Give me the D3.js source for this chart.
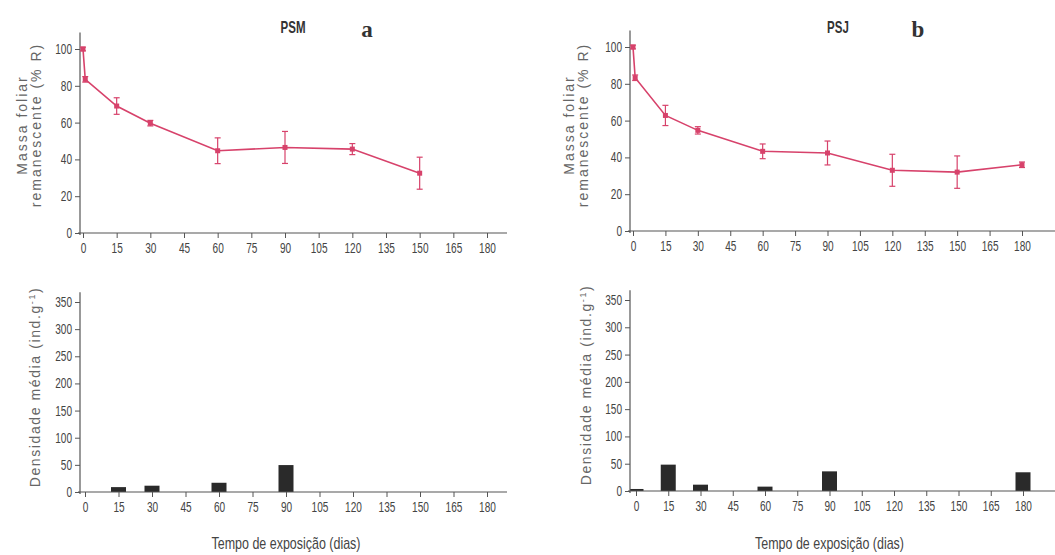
<!DOCTYPE html>
<html lang="pt">
<head>
<meta charset="utf-8" />
<title>PSM / PSJ</title>
<script src="https://d3js.org/d3.v7.min.js"></script>
<style>
  body { margin: 0; background: #fff; }
  svg { display: block; }
  .tick text { font-family: "Liberation Sans", Arial, sans-serif; font-size: 14px; fill: #444; }
</style>
</head>
<body>
<script>
// dias de exposicao
const daysA = [0, 1, 15, 30, 60, 90, 120, 150]
const massA = [100, 83.5, 69, 59.7, 44.7, 46.5, 45.6, 32.5]
const errA  = [1, 1.5, 4.5, 1.5, 7, 8.7, 3, 8.7]

const daysB = [0, 1, 15, 30, 60, 90, 120, 150, 180]
const massB = [100, 83.3, 62.8, 54.7, 43.3, 42.4, 33, 32, 36]
const errB  = [1, 1.5, 5.5, 2, 4, 6.5, 8.7, 8.8, 1.5]

const barDaysA = [15, 30, 60, 90]
const densA    = [9, 11.6, 17, 49.6]
const barDaysB = [0, 15, 30, 60, 90, 180]
const densB    = [3.7, 48.3, 11.6, 8, 36, 34.3]

const xTicks = d3.range(0, 181, 15)
const massTicks = [0, 20, 40, 60, 80, 100]
const densTicks = [0, 50, 100, 150, 200, 250, 300, 350]

const lineColor = "#d7426b"
const axisColor = "#555"
const sans = "'Liberation Sans', Arial, sans-serif"
const squeeze = 0.72   // condensed look of the original typeface

const svg = d3.select("body").append("svg")
    .attr("width", 1055)
    .attr("height", 555)

function axes(g, x, y, yTicks, yTop, axisX, xEnd) {
  g.append("g")
      .attr("transform", `translate(0,${y(0)})`)
      .call(d3.axisBottom(x).tickValues(xTicks).tickSize(5).tickPadding(5).tickSizeOuter(0))
      .call(a => a.select(".domain").remove())
      .call(a => a.selectAll(".tick line").attr("stroke", axisColor))
      .call(a => a.selectAll(".tick text").attr("transform", `scale(${squeeze},1)`))
  g.append("g")
      .attr("transform", `translate(${axisX},0)`)
      .call(d3.axisLeft(y).tickValues(yTicks).tickSize(5).tickPadding(3).tickSizeOuter(0))
      .call(a => a.select(".domain").remove())
      .call(a => a.selectAll(".tick line").attr("stroke", axisColor))
      .call(a => a.selectAll(".tick text").attr("x", -8 / squeeze).attr("transform", `scale(${squeeze},1)`))
  // axis lines
  g.append("line")
      .attr("x1", axisX - 2).attr("x2", xEnd)
      .attr("y1", y(0)).attr("y2", y(0))
      .attr("stroke", axisColor).attr("stroke-width", 1.2)
  g.append("line")
      .attr("x1", axisX).attr("x2", axisX)
      .attr("y1", y(0) + 2).attr("y2", y(yTop))
      .attr("stroke", axisColor).attr("stroke-width", 1.2)
}

function massPanel(p) {
  const x = d3.scaleLinear().domain([0, 180]).range([p.x0, p.x180])
  const y = d3.scaleLinear().domain([0, 100]).range([p.y0, p.y100])
  const g = svg.append("g")
  axes(g, x, y, massTicks, 109, p.axisX, p.xEnd)

  const pts = p.days.map((d, i) => ({d, v: p.mass[i], e: p.err[i]}))

  g.append("path")
      .datum(pts)
      .attr("fill", "none")
      .attr("stroke", lineColor)
      .attr("stroke-width", 1.6)
      .attr("d", d3.line().x(d => x(d.d)).y(d => y(d.v)))

  const eb = g.append("g").attr("stroke", lineColor).attr("stroke-width", 1.2)
  eb.selectAll(".v").data(pts).join("line")
      .attr("x1", d => x(d.d)).attr("x2", d => x(d.d))
      .attr("y1", d => y(d.v - d.e)).attr("y2", d => y(d.v + d.e))
  eb.selectAll(".t").data(pts).join("line")
      .attr("x1", d => x(d.d) - 3).attr("x2", d => x(d.d) + 3)
      .attr("y1", d => y(d.v + d.e)).attr("y2", d => y(d.v + d.e))
  eb.selectAll(".b").data(pts).join("line")
      .attr("x1", d => x(d.d) - 3).attr("x2", d => x(d.d) + 3)
      .attr("y1", d => y(d.v - d.e)).attr("y2", d => y(d.v - d.e))

  g.selectAll("rect.pt").data(pts).join("rect")
      .attr("x", d => x(d.d) - 2.5).attr("y", d => y(d.v) - 2.5)
      .attr("width", 5).attr("height", 5)
      .attr("fill", lineColor)

  const lab = g.append("text")
      .attr("transform", `translate(${p.labX},${p.labY}) rotate(-90)`)
      .attr("text-anchor", "middle")
      .attr("font-family", sans)
      .attr("font-size", 14)
      .attr("letter-spacing", 2)
      .attr("fill", "#666")
  lab.append("tspan").attr("x", 0).attr("y", 0).text("Massa foliar")
  lab.append("tspan").attr("x", 0).attr("y", 14).text("remanescente (% R)")

  g.append("text")
      .attr("transform", `translate(${p.titleX},33) scale(${squeeze},1)`)
      .attr("text-anchor", "middle")
      .attr("font-family", sans)
      .attr("font-weight", "bold")
      .attr("font-size", 16)
      .attr("fill", "#333")
      .text(p.title)
  g.append("text")
      .attr("x", p.letterX).attr("y", 37)
      .attr("text-anchor", "middle")
      .attr("font-family", "'Liberation Serif', 'Times New Roman', serif")
      .attr("font-weight", "bold")
      .attr("font-size", 23)
      .attr("fill", "#333")
      .text(p.letter)
}

function densPanel(p) {
  const x = d3.scaleLinear().domain([0, 180]).range([p.x0, p.x180])
  const y = d3.scaleLinear().domain([0, 350]).range([p.y0, p.y350])
  const g = svg.append("g")
  const bw = 15

  g.selectAll("rect.bar").data(p.days.map((d, i) => ({d, v: p.dens[i]}))).join("rect")
      .attr("x", d => Math.max(x(d.d) - bw / 2, p.axisX))
      .attr("width", d => x(d.d) + bw / 2 - Math.max(x(d.d) - bw / 2, p.axisX))
      .attr("y", d => y(d.v))
      .attr("height", d => y(0) - y(d.v))
      .attr("fill", "#2a2a2a")

  axes(g, x, y, densTicks, 368, p.axisX, p.xEnd)

  const lab = g.append("text")
      .attr("transform", `translate(${p.labX},${p.labY}) rotate(-90)`)
      .attr("text-anchor", "middle")
      .attr("font-family", sans)
      .attr("font-size", 14)
      .attr("letter-spacing", 1.6)
      .attr("fill", "#666")
  lab.append("tspan").text("Densidade média (ind.g")
  lab.append("tspan").attr("font-size", 9).attr("dy", -5).text("-1")
  lab.append("tspan").attr("dy", 5).text(")")

  g.append("text")
      .attr("transform", `translate(${(p.x0 + p.x180) / 2},549) scale(0.78,1)`)
      .attr("text-anchor", "middle")
      .attr("font-family", sans)
      .attr("font-size", 16)
      .attr("fill", "#444")
      .text("Tempo de exposição (dias)")
}

massPanel({days: daysA, mass: massA, err: errA, x0: 83, x180: 487, y0: 233, y100: 49,
  axisX: 80, xEnd: 507, labX: 27, labY: 125, title: "PSM", titleX: 293, letter: "a", letterX: 367})
massPanel({days: daysB, mass: massB, err: errB, x0: 633, x180: 1022, y0: 231, y100: 47,
  axisX: 630, xEnd: 1055, labX: 574, labY: 125, title: "PSJ", titleX: 838, letter: "b", letterX: 918})

densPanel({days: barDaysA, dens: densA, x0: 85, x180: 487, y0: 492, y350: 302,
  axisX: 80, xEnd: 507, labX: 40, labY: 387})
densPanel({days: barDaysB, dens: densB, x0: 636, x180: 1023, y0: 491, y350: 300,
  axisX: 630, xEnd: 1055, labX: 591, labY: 385})
</script>
</body>
</html>
